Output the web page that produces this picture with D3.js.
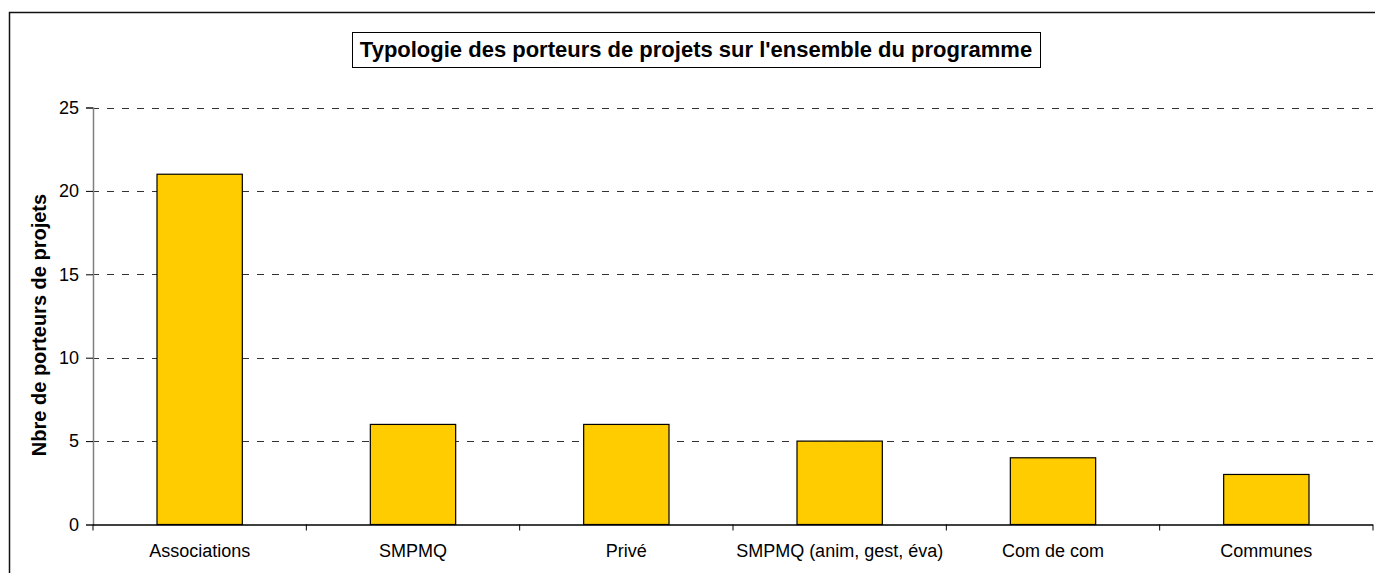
<!DOCTYPE html>
<html>
<head>
<meta charset="utf-8">
<script src="https://cdn.jsdelivr.net/npm/d3@7"></script>
<style>
  body { margin: 0; background: #fff; }
  svg { display: block; font-family: "Liberation Sans", Arial, sans-serif; }
</style>
</head>
<body>
<svg id="chart" width="1375" height="573"></svg>
<script>
// data
const categories = ["Associations", "SMPMQ", "Privé", "SMPMQ (anim, gest, éva)", "Com de com", "Communes"]
const values = [21, 6, 6, 5, 4, 3]
const yTicks = [0, 5, 10, 15, 20, 25]
const title = "Typologie des porteurs de projets sur l'ensemble du programme"
const yLabel = "Nbre de porteurs de projets"

const svg = d3.select("#chart")
const W = 1375, H = 573

// outer frame
svg.append("rect")
  .attr("x", 9.5).attr("y", 12.5)
  .attr("width", W + 10).attr("height", H + 10)
  .attr("fill", "none").attr("stroke", "#111").attr("stroke-width", 1.5)

const plotLeft = 93, plotRight = 1373, plotTop = 107.5, plotBottom = 524.5

const x = d3.scaleBand().domain(categories).range([plotLeft, plotRight])
const y = d3.scaleLinear().domain([0, 25]).range([plotBottom, plotTop])

// gridlines
svg.append("g").selectAll("line")
  .data(yTicks.filter(d => d > 0))
  .join("line")
  .attr("x1", plotLeft).attr("x2", plotRight)
  .attr("y1", d => Math.round(y(d)) + 0.5).attr("y2", d => Math.round(y(d)) + 0.5)
  .attr("stroke", "#333").attr("stroke-width", 1)
  .attr("stroke-dasharray", "7,8")
  .attr("stroke-dashoffset", -14)

// bars
const barW = x.bandwidth() * 0.4
svg.append("g").selectAll("rect")
  .data(values)
  .join("rect")
  .attr("x", (d, i) => x(categories[i]) + (x.bandwidth() - barW) / 2)
  .attr("y", d => y(d))
  .attr("width", barW)
  .attr("height", d => plotBottom - y(d))
  .attr("fill", "#FFCC00")
  .attr("stroke", "#000").attr("stroke-width", 1.2)

// y axis
const yAxis = svg.append("g")
  .attr("transform", `translate(${plotLeft},0)`)
  .call(d3.axisLeft(y).tickValues(yTicks).tickSize(7).tickPadding(7))
yAxis.select(".domain").attr("stroke", "#808080").attr("stroke-width", 1.5)
yAxis.selectAll(".tick line").attr("stroke", "#000")
yAxis.selectAll("text").attr("font-size", 18).attr("fill", "#000")
  .attr("font-family", "Liberation Sans, Arial, sans-serif")

// x axis
svg.append("line")
  .attr("x1", plotLeft).attr("x2", plotRight)
  .attr("y1", plotBottom + 0.5).attr("y2", plotBottom + 0.5)
  .attr("stroke", "#000").attr("stroke-width", 1.5)
const bounds = categories.map(c => x(c)).concat([plotRight])
svg.append("g").selectAll("line")
  .data(bounds)
  .join("line")
  .attr("x1", d => d).attr("x2", d => d)
  .attr("y1", plotBottom).attr("y2", plotBottom + 6)
  .attr("stroke", "#000")
svg.append("g").selectAll("text")
  .data(categories)
  .join("text")
  .attr("x", d => x(d) + x.bandwidth() / 2)
  .attr("y", plotBottom + 32)
  .attr("text-anchor", "middle")
  .attr("font-size", 18)
  .text(d => d)

// y label
svg.append("text")
  .attr("transform", `translate(46,325) rotate(-90)`)
  .attr("text-anchor", "middle")
  .attr("font-size", 20).attr("font-weight", "bold")
  .text(yLabel)

// title with box
const tg = svg.append("g")
tg.append("rect")
  .attr("x", 352.5).attr("y", 32.5)
  .attr("width", 688).attr("height", 35)
  .attr("fill", "#fff").attr("stroke", "#000")
tg.append("text")
  .attr("x", 696).attr("y", 57)
  .attr("text-anchor", "middle")
  .attr("font-size", 22).attr("font-weight", "bold")
  .text(title)
</script>
</body>
</html>
